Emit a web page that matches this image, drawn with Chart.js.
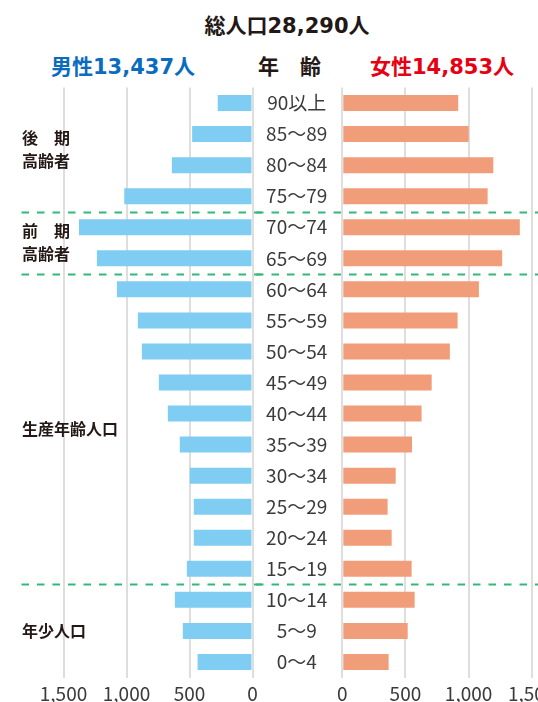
<!DOCTYPE html>
<html lang="ja">
<head>
<meta charset="utf-8">
<script src="https://cdn.jsdelivr.net/npm/chart.js@4/dist/chart.umd.min.js"></script>
<style>
  html, body { margin: 0; padding: 0; background: #fff; }
  body { width: 538px; height: 702px; overflow: hidden; position: relative; font-family: "Noto Sans CJK JP", "Noto Sans", sans-serif; }
  .t { position: absolute; font-weight: bold; white-space: nowrap; line-height: 1; font-family: "DejaVu Sans", "Noto Sans CJK JP", sans-serif; }
  canvas { position: absolute; }
</style>
</head>
<body>
<div class="t" id="title" style="left:137px; width:300px; text-align:center; top:16px; font-size:21px; color:#231815;">総人口28,290人</div>
<div class="t" id="male" style="left:51px; top:57px; font-size:21px; color:#0a6cbf;">男性13,437人</div>
<div class="t" id="age" style="left:258px; top:57px; font-size:21px; color:#231815;">年　齢</div>
<div class="t" id="female" style="left:370px; top:57px; font-size:21px; color:#e60012;">女性14,853人</div>
<canvas id="left" width="262" height="622" style="left:0px; top:80px;"></canvas>
<canvas id="right" width="300" height="622" style="left:256px; top:80px;"></canvas>
<script>
// ---- data ----
const ageLabels = ['90以上','85〜89','80〜84','75〜79','70〜74','65〜69','60〜64','55〜59','50〜54','45〜49','40〜44','35〜39','30〜34','25〜29','20〜24','15〜19','10〜14','5〜9','0〜4'];
const maleValues = [276,479,640,1018,1377,1235,1076,910,878,743,672,577,498,466,466,521,616,553,436];
const femaleValues = [918,1001,1196,1151,1406,1266,1082,913,852,708,628,552,423,359,391,549,573,518,367];
const xTicks = [0,500,1000,1500];
const groupLines = [['後　期','高齢者'],['前　期','高齢者'],['生産年齢人口'],['年少人口']];
const groupStarts = [0,4,6,16];

// ---- styles ----
const MALE_COLOR = '#7fcdf2';
const FEMALE_COLOR = '#f29d79';
const GRID_COLOR = '#dedede';
const DASH_COLOR = '#34b77b';
const TEXT_COLOR = '#3b3b3b';
const FONT = '"Noto Sans CJK JP", "Noto Sans", sans-serif';

function boundaryY(yScale, i) {
  return (yScale.getPixelForValue(i - 1) + yScale.getPixelForValue(i)) / 2;
}

function dashPlugin(x0) {
  return {
    id: 'dashes',
    beforeDraw(chart) {
      const ctx = chart.ctx, y = chart.scales.y;
      ctx.save();
      ctx.strokeStyle = DASH_COLOR;
      ctx.lineWidth = 1.8;
      ctx.setLineDash([7.5, 8]);
      groupStarts.slice(1).forEach(s => {
        const py = Math.round(boundaryY(y, s)) + 0.5;
        ctx.beginPath();
        ctx.moveTo(x0, py);
        ctx.lineTo(chart.width, py);
        ctx.stroke();
      });
      ctx.restore();
    }
  };
}

const groupLabelPlugin = {
  id: 'groupLabels',
  afterDraw(chart) {
    const ctx = chart.ctx, y = chart.scales.y;
    ctx.save();
    ctx.fillStyle = '#231815';
    ctx.font = 'bold 16px ' + FONT;
    ctx.textAlign = 'left';
    ctx.textBaseline = 'middle';
    groupLines.forEach((lines, g) => {
      const s = groupStarts[g];
      const e = g + 1 < groupStarts.length ? groupStarts[g + 1] : ageLabels.length;
      const top = s === 0 ? chart.chartArea.top : boundaryY(y, s);
      const bot = e === ageLabels.length ? chart.chartArea.bottom : boundaryY(y, e);
      const cy = (top + bot) / 2;
      const lh = 23;
      lines.forEach((ln, k) => {
        ctx.fillText(ln, 22, cy + (k - (lines.length - 1) / 2) * lh);
      });
    });
    ctx.restore();
  }
};

function zeroPad(s) { s.paddingLeft = 0; s.paddingRight = 0; s.paddingTop = 0; s.paddingBottom = 0; }

function xScale(reverse) {
  return {
    type: 'linear',
    min: 0, max: 1500,
    reverse: reverse,
    afterBuildTicks: s => { s.ticks = xTicks.map(v => ({ value: v })); },
    afterFit: s => { s.height = 24.5; zeroPad(s); },
    grid: { color: GRID_COLOR, lineWidth: 2, drawTicks: false },
    border: { display: false },
    ticks: {
      padding: 5,
      color: TEXT_COLOR,
      font: { family: FONT, size: 19 },
      maxRotation: 0,
      autoSkip: false,
      callback: v => Number(v).toLocaleString('en-US')
    }
  };
}

const common = {
  indexAxis: 'y',
  responsive: false,
  animation: false,
  events: [],
  plugins: { legend: { display: false }, tooltip: { enabled: false } }
};

new Chart(document.getElementById('left'), {
  type: 'bar',
  data: {
    labels: ageLabels,
    datasets: [{ data: maleValues, backgroundColor: MALE_COLOR, categoryPercentage: 1, barPercentage: 0.515 }]
  },
  options: Object.assign({}, common, {
    layout: { padding: { left: 63.5, right: 9.5, top: 7.5, bottom: 0 } },
    scales: {
      x: xScale(true),
      y: { display: false }
    }
  }),
  plugins: [dashPlugin(21.5), groupLabelPlugin]
});

new Chart(document.getElementById('right'), {
  type: 'bar',
  data: {
    labels: ageLabels,
    datasets: [{ data: femaleValues, backgroundColor: FEMALE_COLOR, categoryPercentage: 1, barPercentage: 0.515 }]
  },
  options: Object.assign({}, common, {
    layout: { padding: { left: 0, right: 24.3, top: 7.5, bottom: 0 } },
    scales: {
      x: xScale(false),
      y: {
        afterFit: s => { s.width = 86.3; zeroPad(s); },
        grid: { display: false, drawTicks: false },
        border: { display: false },
        ticks: {
          crossAlign: 'center',
          padding: 15,
          color: TEXT_COLOR,
          font: { family: FONT, size: 19 },
          autoSkip: false
        }
      }
    }
  }),
  plugins: [dashPlugin(0)]
});
</script>
</body>
</html>
